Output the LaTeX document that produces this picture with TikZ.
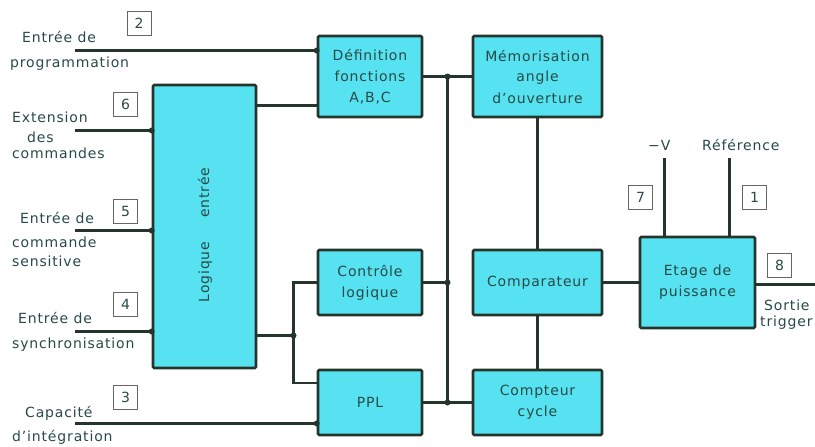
\documentclass[tikz,border=0pt]{standalone}
\usepackage{fontspec}
\setmainfont{DejaVu Sans}[LetterSpace=6]
\usetikzlibrary{calc,positioning}
\definecolor{blcyan}{RGB}{86,226,240}
\definecolor{blline}{RGB}{36,54,44}
\definecolor{bltext}{RGB}{40,74,70}

\begin{document}
\begin{tikzpicture}[x=1pt,y=-1pt,font=\fontsize{14}{21}\selectfont,text=bltext,
    blk/.style={draw=blline,fill=blcyan,line width=2.6pt,rounded corners=1.2pt,align=center,inner sep=0pt},
    pin/.style={draw=black!60,line width=1pt,minimum size=24pt,inner sep=0pt},
    lab/.style={anchor=base west,inner sep=0pt},
    wire/.style={blline,line width=2.6pt}]
  \useasboundingbox (0,0) rectangle (815,447);
  % blocks
  \node[blk,minimum width=103pt,minimum height=283pt] (logic) at (204.5,226.5) {};
  \node[rotate=90,inner sep=0pt] (logictxt) at (205,235) {Logique\hspace{24pt}entrée};
  \node[blk,minimum width=104pt,minimum height=81pt] (def) at (370,76.5) {Définition\\fonctions\\A,B,C};
  \node[blk,minimum width=129pt,minimum height=81pt] (mem) at (537.5,76.5) {Mémorisation\\angle\\d'ouverture};
  \node[blk,minimum width=104pt,minimum height=65pt] (ctrl) at (370,282.5) {Contrôle\\logique};
  \node[blk,minimum width=129pt,minimum height=65pt] (comp) at (537.5,282.5) {Comparateur};
  \node[blk,minimum width=104pt,minimum height=65pt] (ppl) at (370,402.5) {PPL};
  \node[blk,minimum width=129pt,minimum height=65pt] (cnt) at (537.5,402.5) {Compteur\\cycle};
  \node[blk,minimum width=115pt,minimum height=91pt] (etage) at (697.5,282.5) {Etage de\\puissance};

  % inputs on the left
  \coordinate (in2) at (75,50.5);
  \coordinate (in6) at (75,130.5);
  \coordinate (in5) at (75,230.5);
  \coordinate (in4) at (75,331.5);
  \coordinate (in3) at (75,423.5);
  \draw[wire] (in2) -- (in2 -| def.west) coordinate (j2);
  \draw[wire] (in6) -- (in6 -| logic.west) coordinate (j6);
  \draw[wire] (in5) -- (in5 -| logic.west) coordinate (j5);
  \draw[wire] (in4) -- (in4 -| logic.west) coordinate (j4);
  \draw[wire] (in3) -- (in3 -| ppl.west) coordinate (j3);
  \coordinate (lgout) at (256,105.5);
  \draw[wire] (lgout) -- (lgout -| def.west);

  % logique -> controle / PPL
  \coordinate (fork) at (293.5,335.5);
  \draw[wire] (fork -| logic.east) -- (fork);
  \draw[wire] (ctrl.west) -| (fork);
  \draw[wire] (fork) |- ($(ppl.west)+(0,-19.5)$);

  % bus
  \coordinate (bt) at (447.5,76.5);
  \coordinate (bb) at (447.5,402.5);
  \draw[wire] (def.east) -- (mem.west);
  \draw[wire] (bt) -- (bb);
  \draw[wire] (ctrl.east) -- (ctrl.east -| bt) coordinate (jc);
  \draw[wire] (ppl.east) -- (cnt.west);
  \draw[wire] (mem.south) -- (comp.north);
  \draw[wire] (comp.south) -- (cnt.north);
  \draw[wire] (comp.east) -- (etage.west);

  % power stage
  \coordinate (vneg) at (664.5,158);
  \coordinate (vref) at (729.5,158);
  \coordinate (outp) at (815,284.5);
  \draw[wire] (vneg) -- (vneg |- etage.north);
  \draw[wire] (vref) -- (vref |- etage.north);
  \draw[wire] (etage.east |- outp) -- (outp);

  \foreach \j in {j2,j6,j5,j4,j3,fork,bt,bb,jc}
    \fill[blline] (\j) circle (3pt);

  % pin numbers
  \node[pin] (p2) at (139,23.5) {2};
  \node[pin] (p6) at (125.5,104) {6};
  \node[pin] (p5) at (125.5,211) {5};
  \node[pin] (p4) at (125.5,304) {4};
  \node[pin] (p3) at (125.5,397) {3};
  \node[pin] (p7) at (640.5,197.5) {7};
  \node[pin] (p1) at (754.5,197.5) {1};
  \node[pin] (p8) at (779.5,265.5) {8};

  % labels
  \node[lab] (l2a) at (22,42) {Entrée de};
  \node[lab] (l2b) at (10,67) {programmation};
  \node[lab] (l6a) at (12,122) {Extension};
  \node[lab] (l6b) at (27,142) {des};
  \node[lab] (l6c) at (12,158) {commandes};
  \node[lab] (l5a) at (20,223) {Entrée de};
  \node[lab] (l5b) at (12,247) {commande};
  \node[lab] (l5c) at (12,266) {sensitive};
  \node[lab] (l4a) at (18,323) {Entrée de};
  \node[lab] (l4b) at (12,348) {synchronisation};
  \node[lab] (l3a) at (25,417) {Capacité};
  \node[lab] (l3b) at (12,441) {d'intégration};
  \node[lab] (lv) at (648,150) {−V};
  \node[lab] (lr) at (702,150) {Référence};
  \node[lab] (ls) at (764,310) {Sortie};
  \node[lab] (lt) at (760,326) {trigger};
\end{tikzpicture}
\end{document}
